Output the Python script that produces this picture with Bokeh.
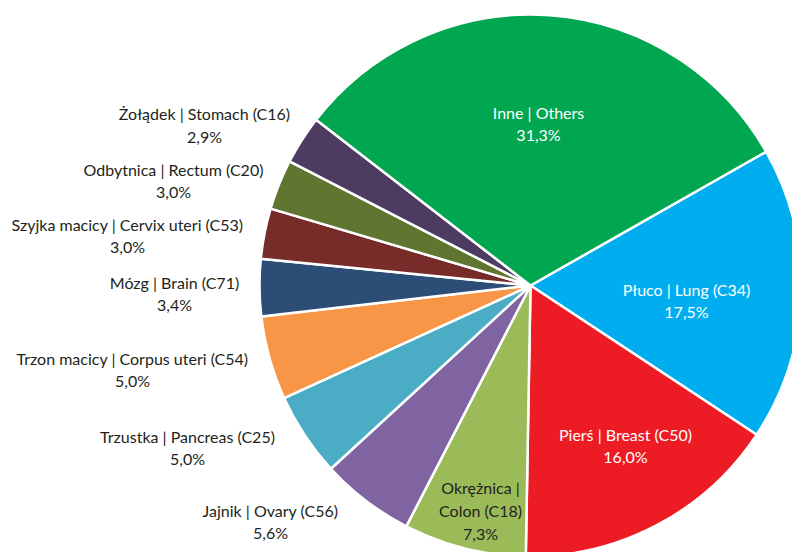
import numpy as np
from bokeh.plotting import figure
from bokeh.models import Range1d, ColumnDataSource
from bokeh.core.properties import value
from bokeh.embed import file_html
from bokeh.resources import INLINE

# ---- data ----
names = ["Płuco | Lung (C34)", "Pierś | Breast (C50)", "Okrężnica |\nColon (C18)",
         "Jajnik | Ovary (C56)", "Trzustka | Pancreas (C25)",
         "Trzon macicy | Corpus uteri (C54)", "Mózg | Brain (C71)",
         "Szyjka macicy | Cervix uteri (C53)", "Odbytnica | Rectum (C20)",
         "Żołądek | Stomach (C16)", "Inne | Others"]
shares = [17.5, 16.0, 7.3, 5.6, 5.0, 5.0, 3.4, 3.0, 3.0, 2.9, 31.3]
share_labels = ["17,5%", "16,0%", "7,3%", "5,6%", "5,0%", "5,0%", "3,4%", "3,0%", "3,0%", "2,9%", "31,3%"]

# ---- styles / layout ----
colors = ["#00AEEF", "#ED1C24", "#9BBB59", "#8064A2", "#4BACC6", "#F79646",
          "#2C4D75", "#772C2A", "#5F7530", "#4D3B62", "#00A650"]
text_colors = ["white", "white", "#231F20", "#231F20", "#231F20", "#231F20",
               "#231F20", "#231F20", "#231F20", "#231F20", "white"]
# label block centres in screen px (layout only)
label_screen = [(686, 300), (625, 445), (480, 510), (270, 521), (187, 447),
                (132, 369), (174, 293), (127, 235), (173, 180), (204, 124.5),
                (538, 123)]
CX, CY, R = 530, 285, 271
START = 29.6  # degrees, lung slice begins here and slices go clockwise
OFF = 0       # page offset of the figure

vals = np.array(shares)
ang = vals / vals.sum() * 360.0
ends = START - np.concatenate([[0], np.cumsum(ang)[:-1]])
starts = ends - ang

src = ColumnDataSource(dict(start=starts, end=ends, color=colors))

W, H = 792, 552
p = figure(width=W, height=H, output_backend="svg", toolbar_location=None,
           x_range=Range1d(OFF - CX, OFF - CX + W), y_range=Range1d(CY - OFF - H, CY - OFF),
           min_border=0, background_fill_color="white", border_fill_color="white")
p.axis.visible = False
p.grid.visible = False
p.outline_line_color = None

p.wedge(x=0, y=0, radius=R, start_angle="start", end_angle="end",
        start_angle_units="deg", end_angle_units="deg", direction="anticlock",
        fill_color="color", line_color="white", line_width=2.5, source=src)

lx = [sx - CX for sx, sy in label_screen]
ly = [CY - sy for sx, sy in label_screen]
texts = [n + "\n" + s for n, s in zip(names, share_labels)]
lsrc = ColumnDataSource(dict(x=lx, y=ly, t=texts, c=text_colors))
p.text(x="x", y="y", text="t", text_color="c", source=lsrc,
       text_align="center", text_baseline="middle", text_font=value("Lato"),
       text_font_size="16px", text_line_height=1.2)

open("out.html", "w").write(file_html(p, INLINE))
